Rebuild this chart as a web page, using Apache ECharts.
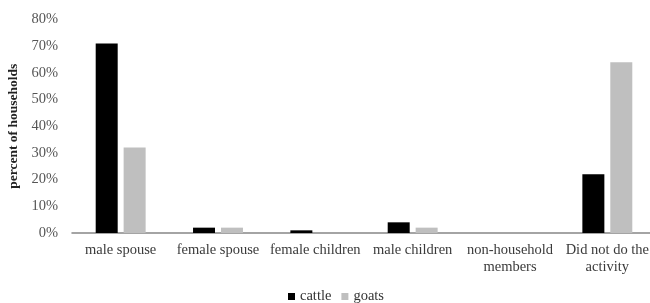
<!DOCTYPE html>
<html>
<head>
<meta charset="utf-8">
<script src="https://cdn.jsdelivr.net/npm/echarts@6/dist/echarts.min.js"></script>
<style>html,body{margin:0;padding:0;background:#fff}#c{width:650px;height:303px}</style>
</head>
<body>
<div id="c"></div>
<script>
var categories = ['male spouse', 'female spouse', 'female children', 'male children', 'non-household\nmembers', 'Did not do the\nactivity'];
var cattle = [71, 2, 1, 4, 0, 22];
var goats = [32, 2, 0, 2, 0, 64];
var yTicks = [0, 10, 20, 30, 40, 50, 60, 70, 80];

var FONT = '"Liberation Serif", "Times New Roman", serif';
var chart = echarts.init(document.getElementById('c'), null, {renderer: 'canvas'});
chart.setOption({
  animation: false,
  backgroundColor: '#fff',
  grid: {left: 72, width: 584, top: 19.5, height: 213.5, containLabel: false, outerBoundsMode: 'none'},
  legend: {
    data: ['cattle', 'goats'],
    left: 288,
    top: 289,
    padding: 0,
    itemWidth: 7, itemHeight: 7, itemGap: 10,
    icon: 'rect',
    textStyle: {fontFamily: FONT, fontSize: 14.5, lineHeight: 14, color: '#333', padding: [0, 0, 0, 0]}
  },
  xAxis: {
    type: 'category',
    data: categories,
    axisLine: {lineStyle: {color: '#868686', width: 1.5}},
    axisTick: {show: false},
    axisLabel: {fontFamily: FONT, fontSize: 14.5, color: '#3a3a3a', margin: 9, interval: 0, lineHeight: 17, hideOverlap: false}
  },
  yAxis: {
    type: 'value',
    min: yTicks[0], max: yTicks[yTicks.length - 1], interval: 10,
    name: 'percent of households',
    nameLocation: 'middle',
    nameGap: 51,
    nameRotate: 90,
    nameTextStyle: {fontFamily: FONT, fontSize: 13.5, fontWeight: 'bold', color: '#222'},
    axisLine: {show: false},
    axisTick: {show: false},
    splitLine: {show: false},
    axisLabel: {fontFamily: FONT, fontSize: 14.5, color: '#555', margin: 14, formatter: '{value}%'}
  },
  series: [
    {name: 'cattle', type: 'bar', data: cattle, barWidth: 22, barGap: '27%', itemStyle: {color: '#000000'}},
    {name: 'goats', type: 'bar', data: goats, barWidth: 22, itemStyle: {color: '#bfbfbf'}}
  ]
});
</script>
</body>
</html>
